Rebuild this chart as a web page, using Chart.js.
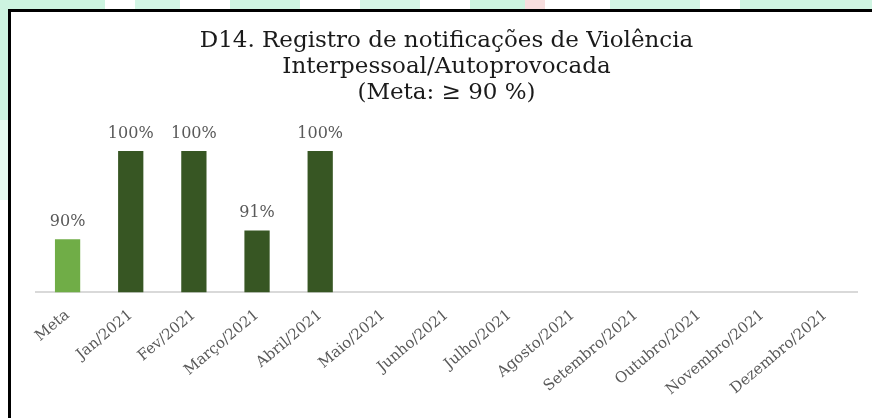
<!DOCTYPE html>
<html>
<head>
<meta charset="utf-8">
<script src="https://cdn.jsdelivr.net/npm/chart.js@4"></script>
<style>
    html, body {
        margin: 0;
        padding: 0;
        width: 872px;
        height: 418px;
        overflow: hidden;
        background: #ffffff;
    }
    .backdrop {
        position: absolute;
        left: 0;
        top: 0;
        width: 872px;
        height: 418px;
        background:
            linear-gradient(90deg, #cdf4e0 0 105px, #ffffff 105px 135px, #d3f6e5 135px 180px, #ffffff 180px 230px,
                #cff5e2 230px 300px, #ffffff 300px 360px, #d5f6e6 360px 420px, #ffffff 420px 470px,
                #cdf4e0 470px 525px, #f7dede 525px 545px, #ffffff 545px 610px, #d2f6e4 610px 700px,
                #ffffff 700px 740px, #cff5e2 740px 872px) top left / 872px 10px no-repeat,
            linear-gradient(180deg, #cdf4e0 0 120px, #e6faf0 120px 200px, #ffffff 200px 418px) top left / 8px 418px no-repeat;
    }
    .box {
        position: absolute;
        left: 8px;
        top: 9px;
        width: 864px;
        height: 409px;
        border-left: 3px solid #000000;
        border-top: 3px solid #000000;
        background: #ffffff;
    }
    #chart {
        display: block;
    }
</style>
</head>
<body>
<div class="backdrop"></div>
<div class="box">
    <canvas id="chart" width="861" height="406"></canvas>
</div>
<script>
const categories = ['Meta', 'Jan/2021', 'Fev/2021', 'Março/2021', 'Abril/2021', 'Maio/2021', 'Junho/2021',
    'Julho/2021', 'Agosto/2021', 'Setembro/2021', 'Outubro/2021', 'Novembro/2021', 'Dezembro/2021'];
const values = [90, 100, 100, 91, 100, null, null, null, null, null, null, null, null];
const titleLines = ['D14. Registro de notificações de Violência', 'Interpessoal/Autoprovocada', '(Meta: ≥ 90 %)'];
const yMin = 84;
const yMax = 100;

const serif = '"DejaVu Serif", "Liberation Serif", serif';

// draws the percentage above each bar
const valueLabels = {
    id: 'valueLabels',
    afterDatasetsDraw: function(chart) {
        const ctx = chart.ctx;
        const meta = chart.getDatasetMeta(0);
        ctx.save();
        ctx.font = '16px ' + serif;
        ctx.fillStyle = '#595959';
        ctx.textAlign = 'center';
        ctx.textBaseline = 'alphabetic';
        meta.data.forEach(function(bar, i) {
            const v = chart.data.datasets[0].data[i];
            if (v === null || v === undefined) return;
            ctx.fillText(v + '%', bar.x, bar.y - 13);
        });
        ctx.restore();
    }
};

new Chart(document.getElementById('chart'), {
    type: 'bar',
    data: {
        labels: categories,
        datasets: [{
            data: values,
            backgroundColor: categories.map(function(c, i) { return i === 0 ? '#70ad47' : '#375623'; }),
            borderWidth: 0,
            barPercentage: 0.4,
            categoryPercentage: 1.0,
        }]
    },
    options: {
        responsive: false,
        animation: false,
        layout: {
            padding: { left: 25, right: 15, top: 0, bottom: 5 }
        },
        plugins: {
            legend: { display: false },
            tooltip: { enabled: false },
            title: {
                display: true,
                text: titleLines,
                color: '#1a1a1a',
                font: { family: serif, size: 23, weight: 'normal', lineHeight: 1.13 },
                padding: { top: 16, bottom: 45 },
            }
        },
        scales: {
            x: {
                grid: { display: false, drawTicks: false },
                border: { display: true, color: '#d9d9d9', width: 2 },
                ticks: {
                    color: '#595959',
                    font: { family: serif, size: 15 },
                    minRotation: 40,
                    maxRotation: 40,
                    padding: 14,
                    autoSkip: false,
                }
            },
            y: {
                display: false,
                min: yMin,
                max: yMax,
            }
        }
    },
    plugins: [valueLabels]
});
</script>
</body>
</html>
